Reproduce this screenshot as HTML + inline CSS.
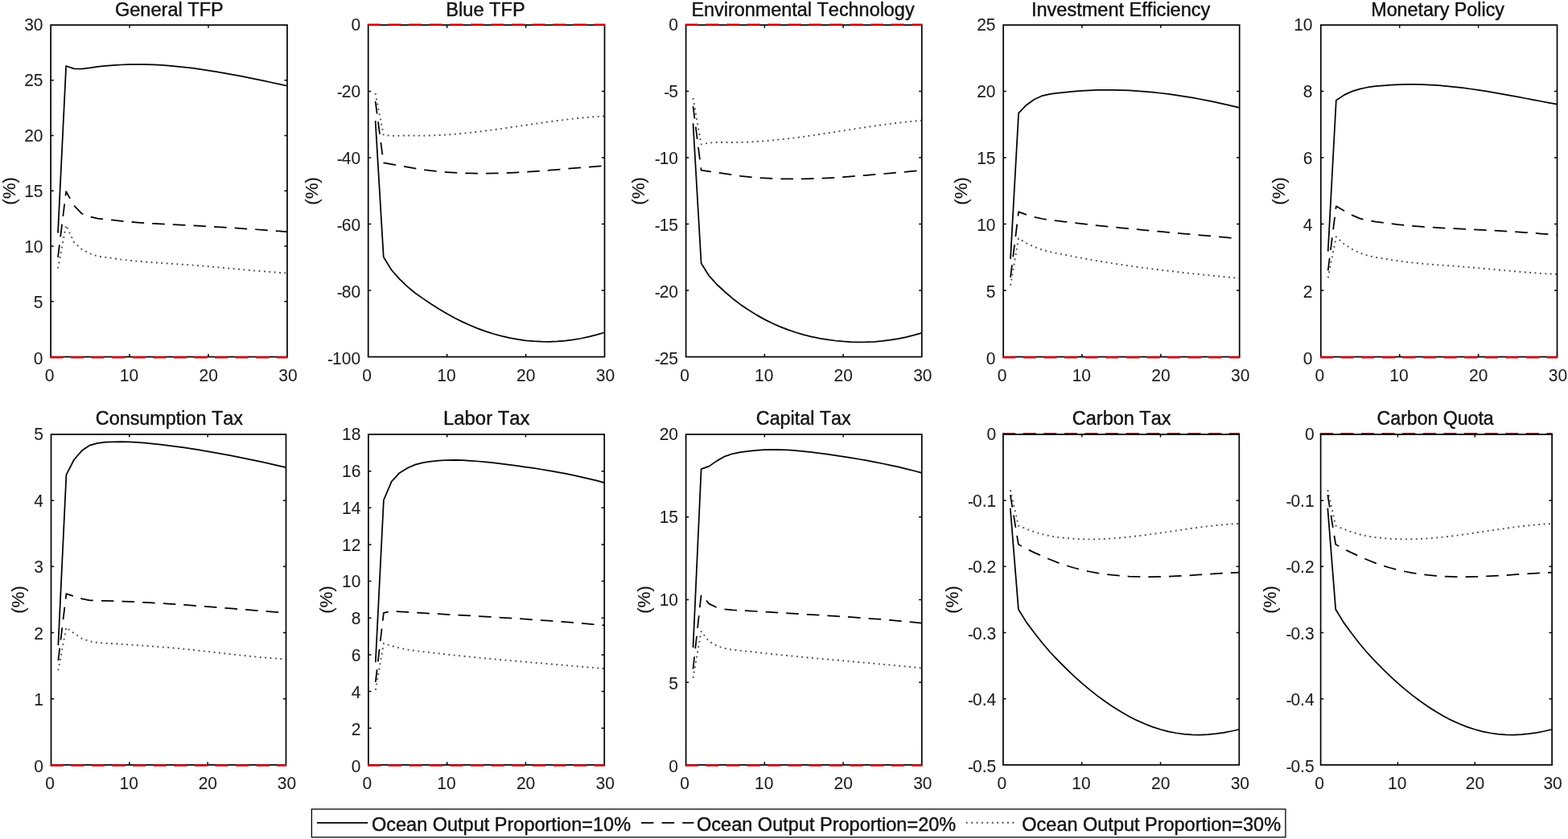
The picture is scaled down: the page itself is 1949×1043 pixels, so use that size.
<!DOCTYPE html>
<html lang="en"><head><meta charset="utf-8"><title>Ocean Output Proportion</title>
<style>html,body{margin:0;padding:0;background:#fff}body{width:1949px;height:1043px;overflow:hidden}svg{display:block}text{font-family:'Liberation Sans', sans-serif;fill:#111;stroke:#111;stroke-width:0.4px;stroke-linejoin:round;font-kerning:none}.tk{font-size:21px;stroke-width:0.05px;fill:#1c1c1c}.tt{font-size:23.45px}.lg{font-size:23.4px}.yl{font-size:22.4px;stroke-width:0.1px}.ax{fill:none;stroke:#000;stroke-width:1.7}.ti{stroke:#000;stroke-width:1.5;fill:none}.s{fill:none;stroke:#000;stroke-width:1.75;stroke-linejoin:round}.d{fill:none;stroke:#000;stroke-width:1.75;stroke-dasharray:15.6 10.05;stroke-linejoin:round}.o{fill:none;stroke:#4a4a4a;stroke-width:1.9;stroke-dasharray:1.9 4.5;stroke-linejoin:round}.r{fill:none;stroke:#d8000a;stroke-width:2.4;stroke-dasharray:16.2 9.4}</style></head><body>
<svg width="1949" height="1043" viewBox="0 0 1949 1043">
<rect width="1949" height="1043" fill="#fff"/>
<g>
<g>
<text class="tt" transform="translate(142.9 19.5) scale(1 1.04)" text-anchor="start" textLength="134.94" lengthAdjust="spacingAndGlyphs">General TFP</text>
<polyline class="o" points="72.02,333.6 82.13,279.98 91.95,301.15 101.77,309.95 111.58,315.04 121.4,318.61 131.22,319.89 141.03,321.19 150.85,322.57 160.67,323.7 170.48,324.66 180.3,325.48 190.12,326.23 199.93,326.92 209.75,327.59 219.57,328.25 229.38,328.93 239.2,329.64 249.02,330.42 258.83,331.24 268.65,332.11 278.47,332.99 288.28,333.89 298.1,334.8 307.92,335.69 317.73,336.55 327.55,337.38 337.37,338.16 347.18,338.87 357,339.52"/>
<polyline class="d" points="72.02,319.85 82.13,238.04 91.95,255.5 101.77,265.54 111.58,269.39 121.4,271.68 131.22,272.85 141.03,273.69 150.85,274.76 160.67,275.7 170.48,276.52 180.3,277.23 190.12,277.86 199.93,278.43 209.75,278.95 219.57,279.44 229.38,279.93 239.2,280.42 249.02,280.94 258.83,281.49 268.65,282.06 278.47,282.65 288.28,283.27 298.1,283.91 307.92,284.57 317.73,285.25 327.55,285.94 337.37,286.65 347.18,287.38 357,288.11"/>
<polyline class="s" points="72.02,289.6 82.13,81.98 91.95,85.41 101.77,85.69 111.58,84.44 121.4,82.79 131.22,81.86 141.03,81.1 150.85,80.5 160.67,80.16 170.48,80.04 180.3,80.14 190.12,80.45 199.93,80.96 209.75,81.65 219.57,82.52 229.38,83.56 239.2,84.74 249.02,86.07 258.83,87.52 268.65,89.1 278.47,90.78 288.28,92.55 298.1,94.42 307.92,96.35 317.73,98.35 327.55,100.4 337.37,102.49 347.18,104.61 357,106.74"/>
<rect class="ax" x="63.1" y="31.1" width="293.9" height="412.5"/>
<path class="ti" d="M161.07 443.6v-3.6M161.07 31.1v3.6M259.03 443.6v-3.6M259.03 31.1v3.6M63.1 374.85h3.6M357 374.85h-3.6M63.1 306.1h3.6M357 306.1h-3.6M63.1 237.35h3.6M357 237.35h-3.6M63.1 168.6h3.6M357 168.6h-3.6M63.1 99.85h3.6M357 99.85h-3.6"/>
<path class="r" d="M62.2 444.2H357.6"/>
<text class="tk" transform="translate(61.6 473.5) scale(1 1.04)" text-anchor="middle">0</text>
<text class="tk" transform="translate(160.4 473.5) scale(1 1.04)" text-anchor="middle">10</text>
<text class="tk" transform="translate(259.2 473.5) scale(1 1.04)" text-anchor="middle">20</text>
<text class="tk" transform="translate(358 473.5) scale(1 1.04)" text-anchor="middle">30</text>
<text class="tk" transform="translate(53.5 452.5) scale(1 1.04)" text-anchor="end">0</text>
<text class="tk" transform="translate(53.5 383.43) scale(1 1.04)" text-anchor="end">5</text>
<text class="tk" transform="translate(53.5 314.37) scale(1 1.04)" text-anchor="end">10</text>
<text class="tk" transform="translate(53.5 245.3) scale(1 1.04)" text-anchor="end">15</text>
<text class="tk" transform="translate(53.5 176.23) scale(1 1.04)" text-anchor="end">20</text>
<text class="tk" transform="translate(53.5 107.17) scale(1 1.04)" text-anchor="end">25</text>
<text class="tk" transform="translate(53.5 38.1) scale(1 1.04)" text-anchor="end">30</text>
<text class="yl" transform="translate(18.6 237.35) rotate(-90)" text-anchor="middle">(%)</text>
</g>
<g>
<text class="tt" transform="translate(554.31 19.5) scale(1 1.04)" text-anchor="start" textLength="98.39" lengthAdjust="spacingAndGlyphs">Blue TFP</text>
<polyline class="o" points="466.61,116.07 476.73,167.64 486.54,168.88 496.35,168.67 506.17,168.46 515.98,168.6 525.79,168.71 535.61,168.49 545.42,168.08 555.23,167.5 565.05,166.75 574.86,165.86 584.67,164.84 594.49,163.71 604.3,162.49 614.11,161.19 623.93,159.83 633.74,158.42 643.55,156.99 653.37,155.55 663.18,154.12 672.99,152.71 682.81,151.35 692.62,150.04 702.43,148.8 712.25,147.66 722.06,146.63 731.87,145.72 741.69,144.96 751.5,144.35"/>
<polyline class="d" points="466.61,125.98 476.73,202.29 486.54,204.17 496.35,205.96 506.17,207.65 515.98,209.32 525.79,210.88 535.61,212.18 545.42,213.23 555.23,214.08 565.05,214.72 574.86,215.19 584.67,215.48 594.49,215.61 604.3,215.6 614.11,215.45 623.93,215.18 633.74,214.79 643.55,214.31 653.37,213.74 663.18,213.1 672.99,212.4 682.81,211.65 692.62,210.86 702.43,210.04 712.25,209.21 722.06,208.38 731.87,207.56 741.69,206.77 751.5,206.01"/>
<polyline class="s" points="466.61,150.11 476.73,319.44 486.54,335.52 496.35,346.66 506.17,356.15 515.98,364.21 525.79,371.14 535.61,377.74 545.42,384.01 555.23,389.83 565.05,395.19 574.86,400.1 584.67,404.56 594.49,408.57 604.3,412.13 614.11,415.25 623.93,417.93 633.74,420.16 643.55,421.96 653.37,423.32 663.18,424.24 672.99,424.73 682.81,424.79 692.62,424.42 702.43,423.62 712.25,422.4 722.06,420.75 731.87,418.68 741.69,416.18 751.5,413.27"/>
<rect class="ax" x="457.7" y="31.1" width="293.8" height="412.5"/>
<path class="ti" d="M555.63 443.6v-3.6M555.63 31.1v3.6M653.57 443.6v-3.6M653.57 31.1v3.6M457.7 361.1h3.6M751.5 361.1h-3.6M457.7 278.6h3.6M751.5 278.6h-3.6M457.7 196.1h3.6M751.5 196.1h-3.6M457.7 113.6h3.6M751.5 113.6h-3.6"/>
<path class="r" d="M456.8 30.6H752.1"/>
<text class="tk" transform="translate(456.2 473.5) scale(1 1.04)" text-anchor="middle">0</text>
<text class="tk" transform="translate(554.97 473.5) scale(1 1.04)" text-anchor="middle">10</text>
<text class="tk" transform="translate(653.73 473.5) scale(1 1.04)" text-anchor="middle">20</text>
<text class="tk" transform="translate(752.5 473.5) scale(1 1.04)" text-anchor="middle">30</text>
<text class="tk" transform="translate(448.1 452.5) scale(1 1.04)" text-anchor="end"><tspan dy="1">-</tspan><tspan dy="-1" dx="-1">100</tspan></text>
<text class="tk" transform="translate(448.1 369.62) scale(1 1.04)" text-anchor="end"><tspan dy="1">-</tspan><tspan dy="-1" dx="-1">80</tspan></text>
<text class="tk" transform="translate(448.1 286.74) scale(1 1.04)" text-anchor="end"><tspan dy="1">-</tspan><tspan dy="-1" dx="-1">60</tspan></text>
<text class="tk" transform="translate(448.1 203.86) scale(1 1.04)" text-anchor="end"><tspan dy="1">-</tspan><tspan dy="-1" dx="-1">40</tspan></text>
<text class="tk" transform="translate(448.1 120.98) scale(1 1.04)" text-anchor="end"><tspan dy="1">-</tspan><tspan dy="-1" dx="-1">20</tspan></text>
<text class="tk" transform="translate(448.1 38.1) scale(1 1.04)" text-anchor="end">0</text>
<text class="yl" transform="translate(395.4 237.35) rotate(-90)" text-anchor="middle">(%)</text>
</g>
<g>
<text class="tt" transform="translate(859.42 19.5) scale(1 1.04)" text-anchor="start" textLength="277.18" lengthAdjust="spacingAndGlyphs">Environmental Technology</text>
<polyline class="o" points="861.49,121.85 871.59,179.44 881.38,177.62 891.17,176.96 900.97,176.96 910.76,176.98 920.55,176.88 930.35,176.51 940.14,175.98 949.93,175.28 959.73,174.43 969.52,173.44 979.31,172.34 989.11,171.13 998.9,169.83 1008.69,168.45 1018.49,167.02 1028.28,165.54 1038.07,164.03 1047.87,162.5 1057.66,160.98 1067.45,159.47 1077.25,157.99 1087.04,156.56 1096.83,155.19 1106.63,153.89 1116.42,152.68 1126.21,151.58 1136.01,150.6 1145.8,149.76"/>
<polyline class="d" points="861.49,132.08 871.59,211.61 881.38,213.06 891.17,214.49 900.97,215.9 910.76,217.4 920.55,218.79 930.35,219.87 940.14,220.75 949.93,221.44 959.73,221.95 969.52,222.28 979.31,222.44 989.11,222.46 998.9,222.34 1008.69,222.1 1018.49,221.74 1028.28,221.27 1038.07,220.72 1047.87,220.08 1057.66,219.38 1067.45,218.62 1077.25,217.82 1087.04,216.99 1096.83,216.13 1106.63,215.27 1116.42,214.4 1126.21,213.56 1136.01,212.74 1145.8,211.95"/>
<polyline class="s" points="861.49,153.2 871.59,327.27 881.38,342.95 891.17,353.75 900.97,362.75 910.76,371.18 920.55,378.65 930.35,385.25 940.14,391.38 949.93,396.88 959.73,401.79 969.52,406.13 979.31,409.94 989.11,413.26 998.9,416.11 1008.69,418.53 1018.49,420.54 1028.28,422.19 1038.07,423.5 1047.87,424.46 1057.66,425.08 1067.45,425.34 1077.25,425.24 1087.04,424.77 1096.83,423.93 1106.63,422.71 1116.42,421.1 1126.21,419.1 1136.01,416.7 1145.8,413.89"/>
<rect class="ax" x="852.6" y="31.1" width="293.2" height="412.5"/>
<path class="ti" d="M950.33 443.6v-3.6M950.33 31.1v3.6M1048.07 443.6v-3.6M1048.07 31.1v3.6M852.6 361.1h3.6M1145.8 361.1h-3.6M852.6 278.6h3.6M1145.8 278.6h-3.6M852.6 196.1h3.6M1145.8 196.1h-3.6M852.6 113.6h3.6M1145.8 113.6h-3.6"/>
<path class="r" d="M851.7 30.6H1146.4"/>
<text class="tk" transform="translate(851.1 473.5) scale(1 1.04)" text-anchor="middle">0</text>
<text class="tk" transform="translate(949.67 473.5) scale(1 1.04)" text-anchor="middle">10</text>
<text class="tk" transform="translate(1048.23 473.5) scale(1 1.04)" text-anchor="middle">20</text>
<text class="tk" transform="translate(1146.8 473.5) scale(1 1.04)" text-anchor="middle">30</text>
<text class="tk" transform="translate(843 452.5) scale(1 1.04)" text-anchor="end"><tspan dy="1">-</tspan><tspan dy="-1" dx="-1">25</tspan></text>
<text class="tk" transform="translate(843 369.62) scale(1 1.04)" text-anchor="end"><tspan dy="1">-</tspan><tspan dy="-1" dx="-1">20</tspan></text>
<text class="tk" transform="translate(843 286.74) scale(1 1.04)" text-anchor="end"><tspan dy="1">-</tspan><tspan dy="-1" dx="-1">15</tspan></text>
<text class="tk" transform="translate(843 203.86) scale(1 1.04)" text-anchor="end"><tspan dy="1">-</tspan><tspan dy="-1" dx="-1">10</tspan></text>
<text class="tk" transform="translate(843 120.98) scale(1 1.04)" text-anchor="end"><tspan dy="1">-</tspan><tspan dy="-1" dx="-1">5</tspan></text>
<text class="tk" transform="translate(843 38.1) scale(1 1.04)" text-anchor="end">0</text>
<text class="yl" transform="translate(801.4 237.35) rotate(-90)" text-anchor="middle">(%)</text>
</g>
<g>
<text class="tt" transform="translate(1281.94 19.5) scale(1 1.04)" text-anchor="start" textLength="222.41" lengthAdjust="spacingAndGlyphs">Investment Efficiency</text>
<polyline class="o" points="1256.01,354.83 1266.11,296.25 1275.92,302.36 1285.73,307.02 1295.53,310.61 1305.34,313.1 1315.15,315.13 1324.95,317.03 1334.76,318.98 1344.57,320.84 1354.37,322.62 1364.18,324.33 1373.99,325.96 1383.79,327.52 1393.6,329.01 1403.41,330.44 1413.21,331.81 1423.02,333.13 1432.83,334.39 1442.63,335.61 1452.44,336.78 1462.25,337.91 1472.05,339.01 1481.86,340.07 1491.67,341.1 1501.47,342.1 1511.28,343.09 1521.09,344.05 1530.89,345 1540.7,345.94"/>
<polyline class="d" points="1256.01,344.93 1266.11,263.42 1275.92,266.82 1285.73,269.8 1295.53,272 1305.34,273.44 1315.15,274.62 1324.95,275.81 1334.76,276.99 1344.57,278.13 1354.37,279.23 1364.18,280.3 1373.99,281.34 1383.79,282.35 1393.6,283.33 1403.41,284.29 1413.21,285.22 1423.02,286.14 1432.83,287.05 1442.63,287.94 1452.44,288.82 1462.25,289.69 1472.05,290.56 1481.86,291.42 1491.67,292.29 1501.47,293.16 1511.28,294.04 1521.09,294.93 1530.89,295.83 1540.7,296.74"/>
<polyline class="s" points="1256.01,321.83 1266.11,140.66 1275.92,130.43 1285.73,123.5 1295.53,119.04 1305.34,116.94 1315.15,115.69 1324.95,114.69 1334.76,113.7 1344.57,112.92 1354.37,112.36 1364.18,111.99 1373.99,111.83 1383.79,111.86 1393.6,112.07 1403.41,112.47 1413.21,113.04 1423.02,113.78 1432.83,114.68 1442.63,115.75 1452.44,116.97 1462.25,118.33 1472.05,119.84 1481.86,121.48 1491.67,123.25 1501.47,125.15 1511.28,127.17 1521.09,129.3 1530.89,131.54 1540.7,133.88"/>
<rect class="ax" x="1247.1" y="31.1" width="293.6" height="412.5"/>
<path class="ti" d="M1344.97 443.6v-3.6M1344.97 31.1v3.6M1442.83 443.6v-3.6M1442.83 31.1v3.6M1247.1 361.1h3.6M1540.7 361.1h-3.6M1247.1 278.6h3.6M1540.7 278.6h-3.6M1247.1 196.1h3.6M1540.7 196.1h-3.6M1247.1 113.6h3.6M1540.7 113.6h-3.6"/>
<path class="r" d="M1246.2 444.2H1541.3"/>
<text class="tk" transform="translate(1245.6 473.5) scale(1 1.04)" text-anchor="middle">0</text>
<text class="tk" transform="translate(1344.3 473.5) scale(1 1.04)" text-anchor="middle">10</text>
<text class="tk" transform="translate(1443 473.5) scale(1 1.04)" text-anchor="middle">20</text>
<text class="tk" transform="translate(1541.7 473.5) scale(1 1.04)" text-anchor="middle">30</text>
<text class="tk" transform="translate(1237.5 452.5) scale(1 1.04)" text-anchor="end">0</text>
<text class="tk" transform="translate(1237.5 369.62) scale(1 1.04)" text-anchor="end">5</text>
<text class="tk" transform="translate(1237.5 286.74) scale(1 1.04)" text-anchor="end">10</text>
<text class="tk" transform="translate(1237.5 203.86) scale(1 1.04)" text-anchor="end">15</text>
<text class="tk" transform="translate(1237.5 120.98) scale(1 1.04)" text-anchor="end">20</text>
<text class="tk" transform="translate(1237.5 38.1) scale(1 1.04)" text-anchor="end">25</text>
<text class="yl" transform="translate(1202.4 237.35) rotate(-90)" text-anchor="middle">(%)</text>
</g>
<g>
<text class="tt" transform="translate(1704.23 19.5) scale(1 1.04)" text-anchor="start" textLength="165.71" lengthAdjust="spacingAndGlyphs">Monetary Policy</text>
<polyline class="o" points="1650.71,345.43 1660.82,294.28 1670.63,303.35 1680.44,309.7 1690.25,314.49 1700.06,317.78 1709.87,319.86 1719.68,321.42 1729.49,323.11 1739.3,324.56 1749.11,325.8 1758.92,326.86 1768.73,327.79 1778.54,328.61 1788.35,329.36 1798.16,330.08 1807.97,330.79 1817.78,331.53 1827.59,332.33 1837.4,333.18 1847.21,334.07 1857.02,334.97 1866.83,335.87 1876.64,336.76 1886.45,337.62 1896.26,338.43 1906.07,339.18 1915.88,339.86 1925.69,340.44 1935.5,340.91"/>
<polyline class="d" points="1650.71,336.35 1660.82,256.33 1670.63,262.1 1680.44,267.39 1690.25,271.59 1700.06,274.01 1709.87,275.6 1719.68,276.85 1729.49,278.17 1739.3,279.32 1749.11,280.31 1758.92,281.17 1768.73,281.91 1778.54,282.56 1788.35,283.13 1798.16,283.65 1807.97,284.13 1817.78,284.6 1827.59,285.08 1837.4,285.56 1847.21,286.07 1857.02,286.59 1866.83,287.15 1876.64,287.73 1886.45,288.36 1896.26,289.03 1906.07,289.74 1915.88,290.52 1925.69,291.35 1935.5,292.25"/>
<polyline class="s" points="1650.71,312.43 1660.82,124.74 1670.63,118.14 1680.44,113.6 1690.25,110.71 1700.06,108.49 1709.87,107.22 1719.68,106.44 1729.49,105.64 1739.3,105.12 1749.11,104.87 1758.92,104.87 1768.73,105.1 1778.54,105.54 1788.35,106.19 1798.16,107.03 1807.97,108.03 1817.78,109.2 1827.59,110.5 1837.4,111.93 1847.21,113.47 1857.02,115.1 1866.83,116.81 1876.64,118.58 1886.45,120.4 1896.26,122.25 1906.07,124.12 1915.88,125.99 1925.69,127.84 1935.5,129.67"/>
<rect class="ax" x="1641.8" y="31.1" width="293.7" height="412.5"/>
<path class="ti" d="M1739.7 443.6v-3.6M1739.7 31.1v3.6M1837.6 443.6v-3.6M1837.6 31.1v3.6M1641.8 361.1h3.6M1935.5 361.1h-3.6M1641.8 278.6h3.6M1935.5 278.6h-3.6M1641.8 196.1h3.6M1935.5 196.1h-3.6M1641.8 113.6h3.6M1935.5 113.6h-3.6"/>
<path class="r" d="M1640.9 444.2H1936.1"/>
<text class="tk" transform="translate(1640.3 473.5) scale(1 1.04)" text-anchor="middle">0</text>
<text class="tk" transform="translate(1739.03 473.5) scale(1 1.04)" text-anchor="middle">10</text>
<text class="tk" transform="translate(1837.77 473.5) scale(1 1.04)" text-anchor="middle">20</text>
<text class="tk" transform="translate(1936.5 473.5) scale(1 1.04)" text-anchor="middle">30</text>
<text class="tk" transform="translate(1631.5 452.5) scale(1 1.04)" text-anchor="end">0</text>
<text class="tk" transform="translate(1631.5 369.62) scale(1 1.04)" text-anchor="end">2</text>
<text class="tk" transform="translate(1631.5 286.74) scale(1 1.04)" text-anchor="end">4</text>
<text class="tk" transform="translate(1631.5 203.86) scale(1 1.04)" text-anchor="end">6</text>
<text class="tk" transform="translate(1631.5 120.98) scale(1 1.04)" text-anchor="end">8</text>
<text class="tk" transform="translate(1631.5 38.1) scale(1 1.04)" text-anchor="end">10</text>
<text class="yl" transform="translate(1596.9 237.35) rotate(-90)" text-anchor="middle">(%)</text>
</g>
<g>
<text class="tt" transform="translate(118.75 528.4) scale(1 1.04)" text-anchor="start" textLength="183.28" lengthAdjust="spacingAndGlyphs">Consumption Tax</text>
<polyline class="o" points="72.35,833.38 82.41,779.97 92.16,787.36 101.91,793.94 111.67,797.22 121.42,798.99 131.17,799.66 140.93,800.04 150.68,800.76 160.43,801.43 170.19,802.08 179.94,802.76 189.69,803.48 199.45,804.25 209.2,805.07 218.95,805.94 228.71,806.87 238.46,807.85 248.21,808.89 257.97,809.97 267.72,811.07 277.47,812.18 287.23,813.28 296.98,814.35 306.73,815.39 316.49,816.37 326.24,817.28 335.99,818.1 345.75,818.81 355.5,819.4"/>
<polyline class="d" points="72.35,821.06 82.41,738.05 92.16,741.34 101.91,744.35 111.67,746.27 121.42,746.69 131.17,746.89 140.93,747.12 150.68,747.5 160.43,747.92 170.19,748.39 179.94,748.9 189.69,749.45 199.45,750.03 209.2,750.65 218.95,751.29 228.71,751.97 238.46,752.66 248.21,753.38 257.97,754.11 267.72,754.87 277.47,755.63 287.23,756.4 296.98,757.19 306.73,757.97 316.49,758.76 326.24,759.55 335.99,760.33 345.75,761.11 355.5,761.87"/>
<polyline class="s" points="72.35,802.15 82.41,590.13 92.16,571.23 101.91,560.05 111.67,553.56 121.42,550.82 131.17,549.55 140.93,549.3 150.68,549.09 160.43,549.3 170.19,549.85 179.94,550.63 189.69,551.57 199.45,552.63 209.2,553.8 218.95,555.09 228.71,556.47 238.46,557.94 248.21,559.48 257.97,561.11 267.72,562.8 277.47,564.57 287.23,566.41 296.98,568.32 306.73,570.29 316.49,572.33 326.24,574.43 335.99,576.6 345.75,578.82 355.5,581.09"/>
<rect class="ax" x="63.5" y="540" width="292" height="410.9"/>
<path class="ti" d="M160.83 950.9v-3.6M160.83 540v3.6M258.17 950.9v-3.6M258.17 540v3.6M63.5 868.72h3.6M355.5 868.72h-3.6M63.5 786.54h3.6M355.5 786.54h-3.6M63.5 704.36h3.6M355.5 704.36h-3.6M63.5 622.18h3.6M355.5 622.18h-3.6"/>
<path class="r" d="M62.6 951.5H356.1"/>
<text class="tk" transform="translate(62 980.8) scale(1 1.04)" text-anchor="middle">0</text>
<text class="tk" transform="translate(160.17 980.8) scale(1 1.04)" text-anchor="middle">10</text>
<text class="tk" transform="translate(258.33 980.8) scale(1 1.04)" text-anchor="middle">20</text>
<text class="tk" transform="translate(356.5 980.8) scale(1 1.04)" text-anchor="middle">30</text>
<text class="tk" transform="translate(53.9 959.8) scale(1 1.04)" text-anchor="end">0</text>
<text class="tk" transform="translate(53.9 877.24) scale(1 1.04)" text-anchor="end">1</text>
<text class="tk" transform="translate(53.9 794.68) scale(1 1.04)" text-anchor="end">2</text>
<text class="tk" transform="translate(53.9 712.12) scale(1 1.04)" text-anchor="end">3</text>
<text class="tk" transform="translate(53.9 629.56) scale(1 1.04)" text-anchor="end">4</text>
<text class="tk" transform="translate(53.9 547) scale(1 1.04)" text-anchor="end">5</text>
<text class="yl" transform="translate(29.7 745.45) rotate(-90)" text-anchor="middle">(%)</text>
</g>
<g>
<text class="tt" transform="translate(550.99 528.4) scale(1 1.04)" text-anchor="start" textLength="107.56" lengthAdjust="spacingAndGlyphs">Labor Tax</text>
<polyline class="o" points="466.8,857.76 476.89,799.78 486.69,802.98 496.49,805.52 506.28,807.54 516.08,809.01 525.88,810.19 535.67,811.27 545.47,812.41 555.27,813.52 565.06,814.58 574.86,815.6 584.66,816.6 594.45,817.56 604.25,818.5 614.05,819.41 623.84,820.3 633.64,821.17 643.44,822.03 653.23,822.88 663.03,823.71 672.83,824.54 682.62,825.37 692.42,826.19 702.22,827.02 712.01,827.85 721.81,828.69 731.61,829.55 741.4,830.41 751.2,831.29"/>
<polyline class="d" points="466.8,847.95 476.89,761.89 486.69,759.83 496.49,760.26 506.28,760.97 516.08,761.56 525.88,762.13 535.67,762.66 545.47,763.22 555.27,763.77 565.06,764.33 574.86,764.89 584.66,765.45 594.45,766.02 604.25,766.6 614.05,767.19 623.84,767.79 633.64,768.4 643.44,769.03 653.23,769.67 663.03,770.34 672.83,771.02 682.62,771.73 692.42,772.45 702.22,773.21 712.01,773.99 721.81,774.8 731.61,775.64 741.4,776.51 751.2,777.42"/>
<polyline class="s" points="466.8,823.29 476.89,621.72 486.69,598.67 496.49,587.94 506.28,581.89 516.08,577.61 525.88,575.12 535.67,573.65 545.47,572.53 555.27,572 565.06,571.94 574.86,572.23 584.66,572.76 594.45,573.5 604.25,574.4 614.05,575.44 623.84,576.6 633.64,577.85 643.44,579.15 653.23,580.52 663.03,581.97 672.83,583.51 682.62,585.14 692.42,586.87 702.22,588.72 712.01,590.7 721.81,592.81 731.61,595.06 741.4,597.47 751.2,600.05"/>
<rect class="ax" x="457.9" y="540" width="293.3" height="410.9"/>
<path class="ti" d="M555.67 950.9v-3.6M555.67 540v3.6M653.43 950.9v-3.6M653.43 540v3.6M457.9 905.24h3.6M751.2 905.24h-3.6M457.9 859.59h3.6M751.2 859.59h-3.6M457.9 813.93h3.6M751.2 813.93h-3.6M457.9 768.28h3.6M751.2 768.28h-3.6M457.9 722.62h3.6M751.2 722.62h-3.6M457.9 676.97h3.6M751.2 676.97h-3.6M457.9 631.31h3.6M751.2 631.31h-3.6M457.9 585.66h3.6M751.2 585.66h-3.6"/>
<path class="r" d="M457 951.5H751.8"/>
<text class="tk" transform="translate(456.4 980.8) scale(1 1.04)" text-anchor="middle">0</text>
<text class="tk" transform="translate(555 980.8) scale(1 1.04)" text-anchor="middle">10</text>
<text class="tk" transform="translate(653.6 980.8) scale(1 1.04)" text-anchor="middle">20</text>
<text class="tk" transform="translate(752.2 980.8) scale(1 1.04)" text-anchor="middle">30</text>
<text class="tk" transform="translate(448.3 959.8) scale(1 1.04)" text-anchor="end">0</text>
<text class="tk" transform="translate(448.3 913.93) scale(1 1.04)" text-anchor="end">2</text>
<text class="tk" transform="translate(448.3 868.07) scale(1 1.04)" text-anchor="end">4</text>
<text class="tk" transform="translate(448.3 822.2) scale(1 1.04)" text-anchor="end">6</text>
<text class="tk" transform="translate(448.3 776.33) scale(1 1.04)" text-anchor="end">8</text>
<text class="tk" transform="translate(448.3 730.47) scale(1 1.04)" text-anchor="end">10</text>
<text class="tk" transform="translate(448.3 684.6) scale(1 1.04)" text-anchor="end">12</text>
<text class="tk" transform="translate(448.3 638.73) scale(1 1.04)" text-anchor="end">14</text>
<text class="tk" transform="translate(448.3 592.87) scale(1 1.04)" text-anchor="end">16</text>
<text class="tk" transform="translate(448.3 547) scale(1 1.04)" text-anchor="end">18</text>
<text class="yl" transform="translate(413 745.45) rotate(-90)" text-anchor="middle">(%)</text>
</g>
<g>
<text class="tt" transform="translate(939.81 528.4) scale(1 1.04)" text-anchor="start" textLength="117.84" lengthAdjust="spacingAndGlyphs">Capital Tax</text>
<polyline class="o" points="861.49,842.83 871.59,784.9 881.38,797.22 891.17,802.98 900.97,806.06 910.76,807.77 920.55,808.85 930.35,809.79 940.14,810.92 949.93,812.01 959.73,813.07 969.52,814.09 979.31,815.08 989.11,816.04 998.9,816.97 1008.69,817.89 1018.49,818.79 1028.28,819.67 1038.07,820.55 1047.87,821.41 1057.66,822.28 1067.45,823.14 1077.25,824.01 1087.04,824.89 1096.83,825.78 1106.63,826.68 1116.42,827.6 1126.21,828.54 1136.01,829.51 1145.8,830.51"/>
<polyline class="d" points="861.49,831.74 871.59,739.29 881.38,750.59 891.17,755.31 900.97,757.37 910.76,758.34 920.55,758.9 930.35,759.38 940.14,760 949.93,760.61 959.73,761.2 969.52,761.79 979.31,762.37 989.11,762.95 998.9,763.53 1008.69,764.11 1018.49,764.71 1028.28,765.31 1038.07,765.93 1047.87,766.56 1057.66,767.22 1067.45,767.9 1077.25,768.61 1087.04,769.35 1096.83,770.12 1106.63,770.94 1116.42,771.79 1126.21,772.69 1136.01,773.63 1145.8,774.62"/>
<polyline class="s" points="861.49,805.03 871.59,583.14 881.38,579.65 891.17,572.87 900.97,567.32 910.76,564.02 920.55,562.03 930.35,560.94 940.14,559.84 949.93,559.19 959.73,558.93 969.52,559.03 979.31,559.44 989.11,560.12 998.9,561.02 1008.69,562.11 1018.49,563.35 1028.28,564.69 1038.07,566.09 1047.87,567.56 1057.66,569.11 1067.45,570.75 1077.25,572.47 1087.04,574.3 1096.83,576.24 1106.63,578.29 1116.42,580.47 1126.21,582.79 1136.01,585.25 1145.8,587.86"/>
<rect class="ax" x="852.6" y="540" width="293.2" height="410.9"/>
<path class="ti" d="M950.33 950.9v-3.6M950.33 540v3.6M1048.07 950.9v-3.6M1048.07 540v3.6M852.6 848.17h3.6M1145.8 848.17h-3.6M852.6 745.45h3.6M1145.8 745.45h-3.6M852.6 642.72h3.6M1145.8 642.72h-3.6"/>
<path class="r" d="M851.7 951.5H1146.4"/>
<text class="tk" transform="translate(851.1 980.8) scale(1 1.04)" text-anchor="middle">0</text>
<text class="tk" transform="translate(949.67 980.8) scale(1 1.04)" text-anchor="middle">10</text>
<text class="tk" transform="translate(1048.23 980.8) scale(1 1.04)" text-anchor="middle">20</text>
<text class="tk" transform="translate(1146.8 980.8) scale(1 1.04)" text-anchor="middle">30</text>
<text class="tk" transform="translate(843 959.8) scale(1 1.04)" text-anchor="end">0</text>
<text class="tk" transform="translate(843 856.6) scale(1 1.04)" text-anchor="end">5</text>
<text class="tk" transform="translate(843 753.4) scale(1 1.04)" text-anchor="end">10</text>
<text class="tk" transform="translate(843 650.2) scale(1 1.04)" text-anchor="end">15</text>
<text class="tk" transform="translate(843 547) scale(1 1.04)" text-anchor="end">20</text>
<text class="yl" transform="translate(807.8 745.45) rotate(-90)" text-anchor="middle">(%)</text>
</g>
<g>
<text class="tt" transform="translate(1332.8 528.4) scale(1 1.04)" text-anchor="start" textLength="122.66" lengthAdjust="spacingAndGlyphs">Carbon Tax</text>
<polyline class="o" points="1255.8,609.28 1265.9,653.41 1275.7,657.52 1285.5,661.1 1295.3,664.09 1305.1,666.36 1314.9,667.88 1324.7,668.91 1334.5,669.73 1344.3,670.22 1354.1,670.39 1363.9,670.29 1373.7,669.92 1383.5,669.33 1393.3,668.53 1403.1,667.56 1412.9,666.45 1422.7,665.21 1432.5,663.88 1442.3,662.49 1452.1,661.06 1461.9,659.62 1471.7,658.19 1481.5,656.81 1491.3,655.5 1501.1,654.29 1510.9,653.21 1520.7,652.27 1530.5,651.52 1540.3,650.98"/>
<polyline class="d" points="1255.8,615.19 1265.9,676.75 1275.7,682.17 1285.5,686.86 1295.3,691.21 1305.1,695.54 1314.9,699.41 1324.7,702.79 1334.5,705.76 1344.3,708.32 1354.1,710.5 1363.9,712.32 1373.7,713.81 1383.5,714.98 1393.3,715.88 1403.1,716.51 1412.9,716.9 1422.7,717.08 1432.5,717.08 1442.3,716.91 1452.1,716.6 1461.9,716.18 1471.7,715.67 1481.5,715.09 1491.3,714.47 1501.1,713.83 1510.9,713.2 1520.7,712.6 1530.5,712.06 1540.3,711.6"/>
<polyline class="s" points="1255.8,631.71 1265.9,757.45 1275.7,773.39 1285.5,786.54 1295.3,799.03 1305.1,810.49 1314.9,820.96 1324.7,830.74 1334.5,840.11 1344.3,848.9 1354.1,857.15 1363.9,864.87 1373.7,872.07 1383.5,878.74 1393.3,884.86 1403.1,890.43 1412.9,895.41 1422.7,899.8 1432.5,903.57 1442.3,906.74 1452.1,909.29 1461.9,911.25 1471.7,912.6 1481.5,913.36 1491.3,913.53 1501.1,913.14 1510.9,912.24 1520.7,910.84 1530.5,909 1540.3,906.74"/>
<path class="r" style="stroke:#c01018;stroke-width:2.2" d="M1246 539.1H1540.9"/>
<rect class="ax" x="1246.9" y="540" width="293.4" height="410.9"/>
<path class="ti" d="M1344.7 950.9v-3.6M1344.7 540v3.6M1442.5 950.9v-3.6M1442.5 540v3.6M1246.9 868.72h3.6M1540.3 868.72h-3.6M1246.9 786.54h3.6M1540.3 786.54h-3.6M1246.9 704.36h3.6M1540.3 704.36h-3.6M1246.9 622.18h3.6M1540.3 622.18h-3.6"/>
<text class="tk" transform="translate(1245.4 980.8) scale(1 1.04)" text-anchor="middle">0</text>
<text class="tk" transform="translate(1344.03 980.8) scale(1 1.04)" text-anchor="middle">10</text>
<text class="tk" transform="translate(1442.67 980.8) scale(1 1.04)" text-anchor="middle">20</text>
<text class="tk" transform="translate(1541.3 980.8) scale(1 1.04)" text-anchor="middle">30</text>
<text class="tk" transform="translate(1238.2 959.8) scale(1 1.04)" text-anchor="end"><tspan dy="1">-</tspan><tspan dy="-1" dx="-1">0.5</tspan></text>
<text class="tk" transform="translate(1238.2 877.24) scale(1 1.04)" text-anchor="end"><tspan dy="1">-</tspan><tspan dy="-1" dx="-1">0.4</tspan></text>
<text class="tk" transform="translate(1238.2 794.68) scale(1 1.04)" text-anchor="end"><tspan dy="1">-</tspan><tspan dy="-1" dx="-1">0.3</tspan></text>
<text class="tk" transform="translate(1238.2 712.12) scale(1 1.04)" text-anchor="end"><tspan dy="1">-</tspan><tspan dy="-1" dx="-1">0.2</tspan></text>
<text class="tk" transform="translate(1238.2 629.56) scale(1 1.04)" text-anchor="end"><tspan dy="1">-</tspan><tspan dy="-1" dx="-1">0.1</tspan></text>
<text class="tk" transform="translate(1238.2 547) scale(1 1.04)" text-anchor="end">0</text>
<text class="yl" transform="translate(1191.1 745.45) rotate(-90)" text-anchor="middle">(%)</text>
</g>
<g>
<text class="tt" transform="translate(1711.61 528.4) scale(1 1.04)" text-anchor="start" textLength="145.09" lengthAdjust="spacingAndGlyphs">Carbon Quota</text>
<polyline class="o" points="1650.3,609.28 1660.21,653.41 1669.81,657.52 1679.41,661.1 1689.02,664.09 1698.62,666.36 1708.22,667.88 1717.83,668.91 1727.43,669.73 1737.03,670.22 1746.64,670.39 1756.24,670.29 1765.84,669.92 1775.45,669.33 1785.05,668.53 1794.65,667.56 1804.26,666.45 1813.86,665.21 1823.46,663.88 1833.07,662.49 1842.67,661.06 1852.27,659.62 1861.88,658.19 1871.48,656.81 1881.08,655.5 1890.69,654.29 1900.29,653.21 1909.89,652.27 1919.5,651.52 1929.1,650.98"/>
<polyline class="d" points="1650.3,615.19 1660.21,676.75 1669.81,682.17 1679.41,686.86 1689.02,691.21 1698.62,695.54 1708.22,699.41 1717.83,702.79 1727.43,705.76 1737.03,708.32 1746.64,710.5 1756.24,712.32 1765.84,713.81 1775.45,714.98 1785.05,715.88 1794.65,716.51 1804.26,716.9 1813.86,717.08 1823.46,717.08 1833.07,716.91 1842.67,716.6 1852.27,716.18 1861.88,715.67 1871.48,715.09 1881.08,714.47 1890.69,713.83 1900.29,713.2 1909.89,712.6 1919.5,712.06 1929.1,711.6"/>
<polyline class="s" points="1650.3,631.71 1660.21,757.45 1669.81,773.39 1679.41,786.54 1689.02,799.03 1698.62,810.49 1708.22,820.96 1717.83,830.74 1727.43,840.11 1737.03,848.9 1746.64,857.15 1756.24,864.87 1765.84,872.07 1775.45,878.74 1785.05,884.86 1794.65,890.43 1804.26,895.41 1813.86,899.8 1823.46,903.57 1833.07,906.74 1842.67,909.29 1852.27,911.25 1861.88,912.6 1871.48,913.36 1881.08,913.53 1890.69,913.14 1900.29,912.24 1909.89,910.84 1919.5,909 1929.1,906.74"/>
<path class="r" style="stroke:#c01018;stroke-width:2.2" d="M1640.7 539.1H1929.7"/>
<rect class="ax" x="1641.6" y="540" width="287.5" height="410.9"/>
<path class="ti" d="M1737.43 950.9v-3.6M1737.43 540v3.6M1833.27 950.9v-3.6M1833.27 540v3.6M1641.6 868.72h3.6M1929.1 868.72h-3.6M1641.6 786.54h3.6M1929.1 786.54h-3.6M1641.6 704.36h3.6M1929.1 704.36h-3.6M1641.6 622.18h3.6M1929.1 622.18h-3.6"/>
<text class="tk" transform="translate(1640.1 980.8) scale(1 1.04)" text-anchor="middle">0</text>
<text class="tk" transform="translate(1736.77 980.8) scale(1 1.04)" text-anchor="middle">10</text>
<text class="tk" transform="translate(1833.43 980.8) scale(1 1.04)" text-anchor="middle">20</text>
<text class="tk" transform="translate(1930.1 980.8) scale(1 1.04)" text-anchor="middle">30</text>
<text class="tk" transform="translate(1633.6 959.8) scale(1 1.04)" text-anchor="end"><tspan dy="1">-</tspan><tspan dy="-1" dx="-1">0.5</tspan></text>
<text class="tk" transform="translate(1633.6 877.24) scale(1 1.04)" text-anchor="end"><tspan dy="1">-</tspan><tspan dy="-1" dx="-1">0.4</tspan></text>
<text class="tk" transform="translate(1633.6 794.68) scale(1 1.04)" text-anchor="end"><tspan dy="1">-</tspan><tspan dy="-1" dx="-1">0.3</tspan></text>
<text class="tk" transform="translate(1633.6 712.12) scale(1 1.04)" text-anchor="end"><tspan dy="1">-</tspan><tspan dy="-1" dx="-1">0.2</tspan></text>
<text class="tk" transform="translate(1633.6 629.56) scale(1 1.04)" text-anchor="end"><tspan dy="1">-</tspan><tspan dy="-1" dx="-1">0.1</tspan></text>
<text class="tk" transform="translate(1633.6 547) scale(1 1.04)" text-anchor="end">0</text>
<text class="yl" transform="translate(1585.6 745.45) rotate(-90)" text-anchor="middle">(%)</text>
</g>
<g>
<rect class="ax" x="387.4" y="1005.9" width="1210.5" height="34.9" style="stroke-width:1.3"/>
<path class="s" d="M393.9 1022.8H457.2"/>
<text class="lg" transform="translate(461.96 1033.1) scale(1 1.03)" text-anchor="start" textLength="322.08" lengthAdjust="spacingAndGlyphs">Ocean Output Proportion=10%</text>
<path class="d" d="M796.9 1022.8H862.4"/>
<text class="lg" transform="translate(866.06 1033.1) scale(1 1.03)" text-anchor="start" textLength="322.18" lengthAdjust="spacingAndGlyphs">Ocean Output Proportion=20%</text>
<path class="o" d="M1200.8 1022.8H1261.8"/>
<text class="lg" transform="translate(1270.36 1033.1) scale(1 1.03)" text-anchor="start" textLength="321.67" lengthAdjust="spacingAndGlyphs">Ocean Output Proportion=30%</text>
</g>
</g>
</svg></body></html>
